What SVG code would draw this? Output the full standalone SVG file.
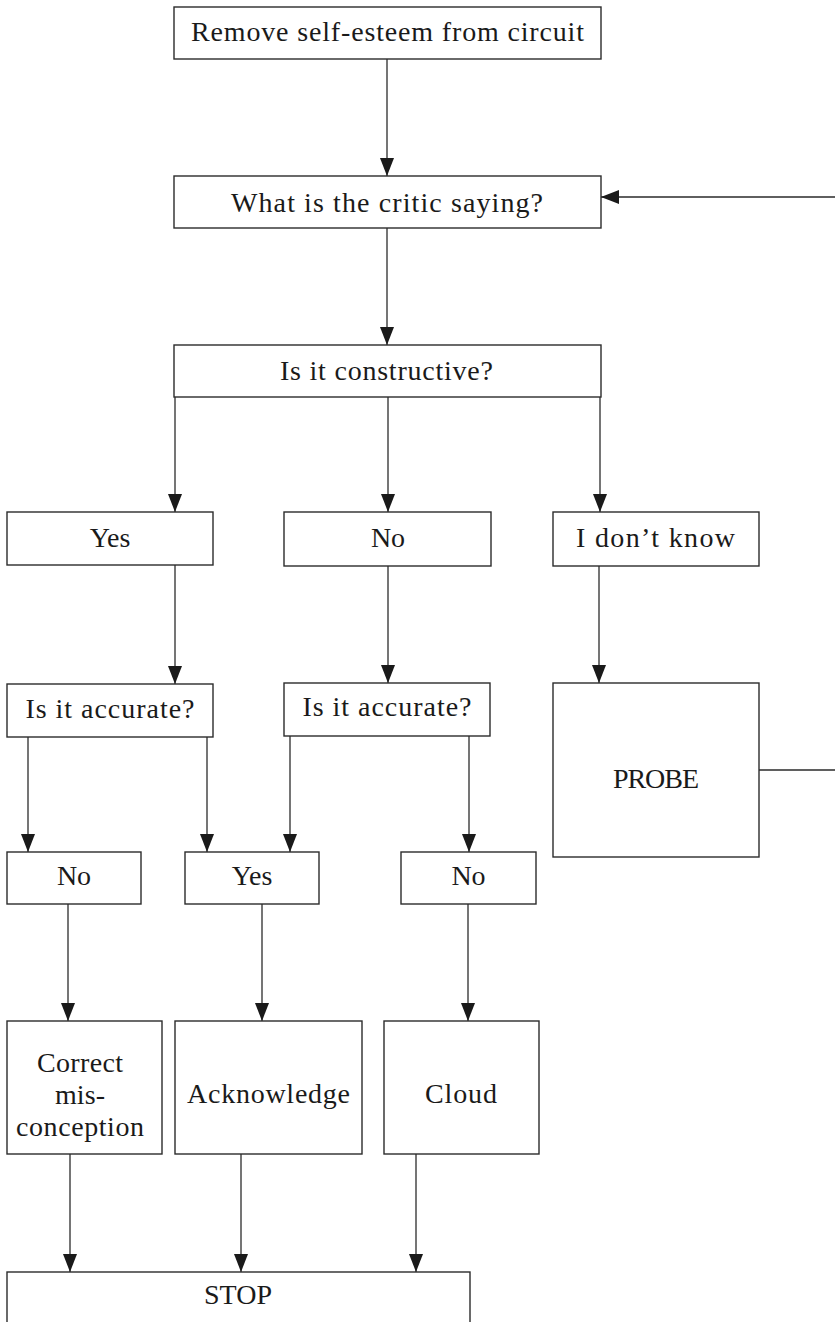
<svg xmlns="http://www.w3.org/2000/svg" width="835" height="1322" viewBox="0 0 835 1322">
<style>
.box{fill:#fff;stroke:#2b2b2b;stroke-width:1.4}
.t{font-family:"Liberation Serif","Times New Roman",serif;font-size:28px;fill:#1a1a1a;text-anchor:middle}
.c{fill:none;stroke:#2b2b2b;stroke-width:1.3}
</style>
<defs>
<marker id="ah" viewBox="0 0 18 14" refX="18" refY="7" markerWidth="18" markerHeight="14" markerUnits="userSpaceOnUse" orient="auto">
<path d="M0,0 L18,7 L0,14 z" fill="#1a1a1a"/>
</marker>
</defs>
<rect width="835" height="1322" fill="#fff"/>
<g id="connectors">
<path class="c" marker-end="url(#ah)" d="M387,59 V176"/>
<path class="c" marker-end="url(#ah)" d="M759,770 H837 V197 H601"/>
<path class="c" marker-end="url(#ah)" d="M387,228 V345"/>
<path class="c" marker-end="url(#ah)" d="M175,397 V512"/>
<path class="c" marker-end="url(#ah)" d="M388,397 V512"/>
<path class="c" marker-end="url(#ah)" d="M600,397 V512"/>
<path class="c" marker-end="url(#ah)" d="M175,565 V684"/>
<path class="c" marker-end="url(#ah)" d="M388,566 V683"/>
<path class="c" marker-end="url(#ah)" d="M599,566 V683"/>
<path class="c" marker-end="url(#ah)" d="M28,737 V852"/>
<path class="c" marker-end="url(#ah)" d="M207,737 V852"/>
<path class="c" marker-end="url(#ah)" d="M290,736 V852"/>
<path class="c" marker-end="url(#ah)" d="M469,736 V852"/>
<path class="c" marker-end="url(#ah)" d="M68,904 V1021"/>
<path class="c" marker-end="url(#ah)" d="M262,904 V1021"/>
<path class="c" marker-end="url(#ah)" d="M468,904 V1021"/>
<path class="c" marker-end="url(#ah)" d="M70,1154 V1272"/>
<path class="c" marker-end="url(#ah)" d="M241,1154 V1272"/>
<path class="c" marker-end="url(#ah)" d="M416,1154 V1272"/>
</g>
<g id="n-remove"><rect class="box" x="174" y="7" width="427" height="52"/><text class="t" x="387.5" y="41" textLength="393" lengthAdjust="spacing">Remove self-esteem from circuit</text></g>
<g id="n-critic"><rect class="box" x="174" y="176" width="427" height="52"/><text class="t" x="387" y="212" textLength="312" lengthAdjust="spacing">What is the critic saying?</text></g>
<g id="n-constructive"><rect class="box" x="174" y="345" width="427" height="52"/><text class="t" x="386.5" y="380" textLength="213" lengthAdjust="spacing">Is it constructive?</text></g>
<g id="n-yes1"><rect class="box" x="7" y="512" width="206" height="53"/><text class="t" x="110" y="547">Yes</text></g>
<g id="n-no1"><rect class="box" x="284" y="512" width="207" height="54"/><text class="t" x="388" y="547">No</text></g>
<g id="n-idk"><rect class="box" x="553" y="512" width="206" height="54"/><text class="t" x="655.5" y="547" textLength="159" lengthAdjust="spacing">I don’t know</text></g>
<g id="n-acc1"><rect class="box" x="7" y="684" width="206" height="53"/><text class="t" x="110" y="718" textLength="169" lengthAdjust="spacing">Is it accurate?</text></g>
<g id="n-acc2"><rect class="box" x="284" y="683" width="206" height="53"/><text class="t" x="387" y="716" textLength="169" lengthAdjust="spacing">Is it accurate?</text></g>
<g id="n-probe"><rect class="box" x="553" y="683" width="206" height="174"/><text class="t" x="656" y="788" textLength="86" lengthAdjust="spacing">PROBE</text></g>
<g id="n-no2"><rect class="box" x="7" y="852" width="134" height="52"/><text class="t" x="74" y="885">No</text></g>
<g id="n-yes2"><rect class="box" x="185" y="852" width="134" height="52"/><text class="t" x="252" y="885">Yes</text></g>
<g id="n-no3"><rect class="box" x="401" y="852" width="135" height="52"/><text class="t" x="468.5" y="885">No</text></g>
<g id="n-correct"><rect class="box" x="7" y="1021" width="155" height="133"/><text class="t" x="80" y="1072" textLength="86" lengthAdjust="spacing">Correct</text><text class="t" x="80" y="1104" textLength="50" lengthAdjust="spacing">mis-</text><text class="t" x="80" y="1136" textLength="128" lengthAdjust="spacing">conception</text></g>
<g id="n-ack"><rect class="box" x="175" y="1021" width="187" height="133"/><text class="t" x="268.5" y="1103" textLength="163" lengthAdjust="spacing">Acknowledge</text></g>
<g id="n-cloud"><rect class="box" x="384" y="1021" width="155" height="133"/><text class="t" x="461" y="1103" textLength="72" lengthAdjust="spacing">Cloud</text></g>
<g id="n-stop"><rect class="box" x="7" y="1272" width="463" height="70"/><text class="t" x="238" y="1304" textLength="68" lengthAdjust="spacing">STOP</text></g>
</svg>
